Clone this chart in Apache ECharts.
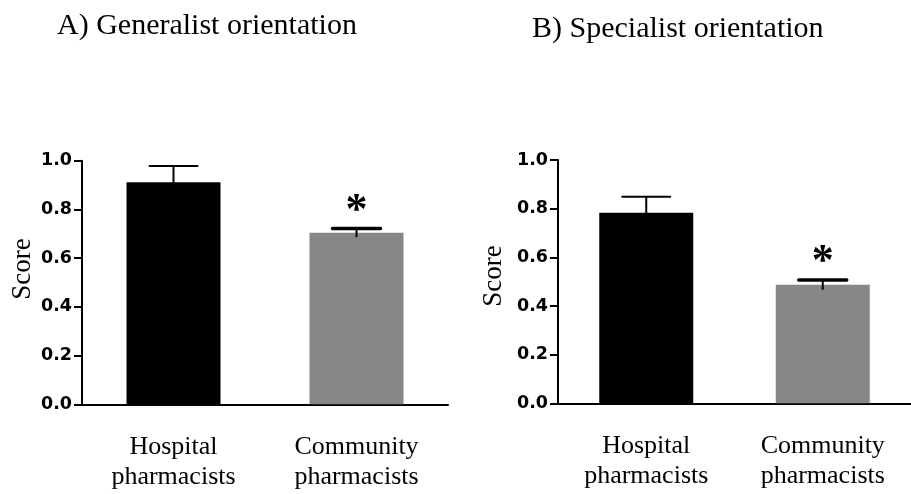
<!DOCTYPE html>
<html>
<head>
<meta charset="utf-8">
<script src="https://cdn.jsdelivr.net/npm/echarts@6/dist/echarts.min.js"></script>
<style>
  html, body { margin: 0; padding: 0; background: #ffffff; }
  #chart { width: 911px; height: 494px; }
</style>
</head>
<body>
<div id="chart"></div>
<script>
// Two panels: generalist and specialist orientation scores by pharmacist group
const groups = ['Hospital\npharmacists', 'Community\npharmacists'];
const panelTitles = ['A) Generalist orientation', 'B) Specialist orientation'];
const axisName = 'Score';
const yTickStep = 0.2;
const generalistMean = [0.912, 0.704];
const generalistErr = [0.066, 0.018];
const specialistMean = [0.783, 0.487];
const specialistErr = [0.066, 0.020];
const significance = ['', '*'];
const barColors = ['#000000', '#878787'];

const serif = '"Liberation Serif", "Times New Roman", serif';
const chart = echarts.init(document.getElementById('chart'), null, { renderer: 'canvas' });

function xAxisFor(idx) {
  return {
    type: 'category', gridIndex: idx, data: groups,
    axisLine: { lineStyle: { color: '#000', width: 2 } },
    axisTick: { alignWithLabel: true, length: 7, lineStyle: { color: '#000', width: 2 } },
    axisLabel: {
      margin: 28, color: '#000', fontFamily: serif, fontSize: 26, lineHeight: 30
    }
  };
}
function yAxisFor(idx) {
  return {
    type: 'value', gridIndex: idx, min: 0, max: 1, interval: yTickStep,
    splitLine: { show: false },
    axisLine: { show: true, lineStyle: { color: '#000', width: 2 } },
    axisTick: { show: true, length: 8, lineStyle: { color: '#000', width: 2 } },
    axisLabel: {
      margin: 10, color: '#000', fontFamily: '"DejaVu Sans", sans-serif',
      fontWeight: 'bold', fontSize: 17.5,
      formatter: v => v.toFixed(1)
    }
  };
}
function barSeries(idx, means) {
  return {
    type: 'bar', xAxisIndex: idx, yAxisIndex: idx, barWidth: 94, z: 2,
    data: means.map((m, i) => ({ value: m, itemStyle: { color: barColors[i] } }))
  };
}
function errorSeries(idx, means, errs) {
  return {
    type: 'custom', xAxisIndex: idx, yAxisIndex: idx, z: 5,
    data: means.map((m, i) => [i, m, errs[i]]),
    renderItem: function (params, api) {
      const c = api.value(0), m = api.value(1), e = api.value(2);
      const top = api.coord([c, m + e]);
      const low = api.coord([c, m - e]);
      const x = top[0];
      const capHalf = 24;
      const lw = c === 0 ? 2 : 3.5;
      const children = [
        { type: 'line', shape: { x1: x, y1: low[1], x2: x, y2: top[1] }, style: { stroke: '#000', lineWidth: 2 } },
        { type: 'line', shape: { x1: x - capHalf, y1: top[1], x2: x + capHalf, y2: top[1] }, style: { stroke: '#000', lineWidth: lw, lineCap: 'round' } }
      ];
      const mark = significance[params.dataIndex];
      if (mark) {
        children.push({
          type: 'text',
          style: {
            text: mark, x: x, y: top[1] - 17, align: 'center', verticalAlign: 'middle',
            font: 'bold 44px ' + serif, fill: '#000'
          }
        });
      }
      return { type: 'group', children: children };
    }
  };
}

const option = {
  backgroundColor: '#ffffff',
  animation: false,
  grid: [
    { left: 82, top: 160.7, width: 366, height: 243.6 },
    { left: 558, top: 160, width: 364, height: 243.3 }
  ],
  xAxis: [xAxisFor(0), xAxisFor(1)],
  yAxis: [yAxisFor(0), yAxisFor(1)],
  series: [
    barSeries(0, generalistMean), errorSeries(0, generalistMean, generalistErr),
    barSeries(1, specialistMean), errorSeries(1, specialistMean, specialistErr)
  ],
  graphic: [
    { type: 'text', left: 57, top: 11, style: { text: panelTitles[0], font: '30px ' + serif, fill: '#000' } },
    { type: 'text', left: 532, top: 14, style: { text: panelTitles[1], font: '30px ' + serif, fill: '#000' } },
    { type: 'text', x: 22.5, y: 269, rotation: Math.PI / 2,
      style: { text: axisName, font: '27px ' + serif, fill: '#000', align: 'center', verticalAlign: 'middle' } },
    { type: 'text', x: 494, y: 276, rotation: Math.PI / 2,
      style: { text: axisName, font: '27px ' + serif, fill: '#000', align: 'center', verticalAlign: 'middle' } }
  ]
};
chart.setOption(option);
</script>
</body>
</html>
